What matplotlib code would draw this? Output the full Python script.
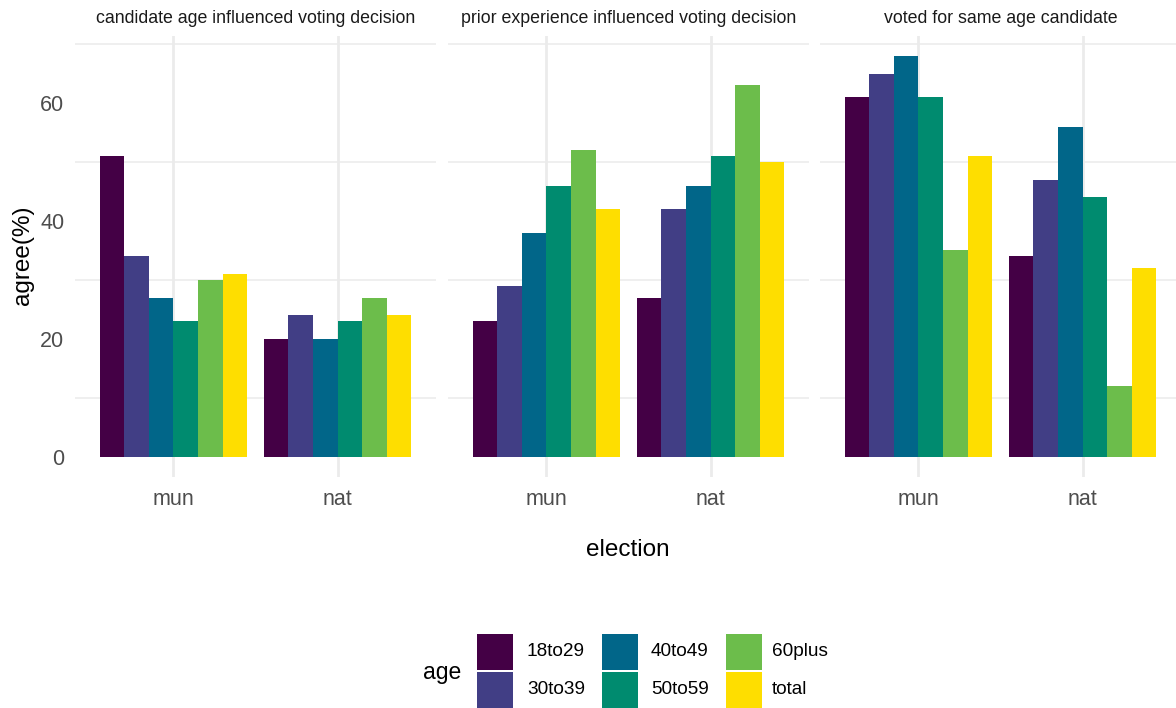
import matplotlib
matplotlib.use("Agg")
import matplotlib.pyplot as plt
from matplotlib.patches import Rectangle
import numpy as np

plt.rcParams['font.family'] = ['Liberation Sans', 'DejaVu Sans']

# ---- data -------------------------------------------------------------
panels = ["candidate age influenced voting decision",
          "prior experience influenced voting decision",
          "voted for same age candidate"]
elections = ["mun", "nat"]
age_groups = ["18to29", "30to39", "40to49", "50to59", "60plus", "total"]

# agree (%) per panel -> election -> age group
candidate_age = {"mun": [51, 34, 27, 23, 30, 31],
                 "nat": [20, 24, 20, 23, 27, 24]}
prior_experience = {"mun": [23, 29, 38, 46, 52, 42],
                    "nat": [27, 42, 46, 51, 63, 50]}
same_age = {"mun": [61, 65, 68, 61, 35, 51],
            "nat": [34, 47, 56, 44, 12, 32]}
panel_data = [candidate_age, prior_experience, same_age]

colors = ["#440045", "#413E85", "#016689", "#008B6F", "#6CBD4B", "#FEDE00"]

# ---- layout helpers ---------------------------------------------------
W, H = 1176, 708
fig = plt.figure(figsize=(W / 100, H / 100), dpi=100)


def fx(px):
    return px / W


def fy(py):
    return 1 - py / H


grid_col = "#EBEBEB"
tick_col = "#4D4D4D"
panel_lefts = [75, 448, 820]
panel_w = 361
top_px, bot_px = 35.8, 476.7

ymax = max(max(max(d[e]) for e in elections) for d in panel_data)
ylim = (-0.05 * ymax, 1.05 * ymax)

n = len(age_groups)
bw = 0.9 / n
xs = np.arange(1, len(elections) + 1)

for p, (title, data) in enumerate(zip(panels, panel_data)):
    ax = fig.add_axes([fx(panel_lefts[p]), fy(bot_px),
                       fx(panel_w), (bot_px - top_px) / H])
    ax.set_xlim(0.4, len(elections) + 0.6)
    ax.set_ylim(*ylim)
    for s in ax.spines.values():
        s.set_visible(False)
    # gridlines
    for yv in [10, 30, 50, 70]:
        ax.axhline(yv, color=grid_col, lw=1.1, zorder=0)
    for xv in xs:
        ax.axvline(xv, color=grid_col, lw=2.0, zorder=0)
    for i, ag in enumerate(age_groups):
        vals = [data[e][i] for e in elections]
        ax.bar(xs + (i - (n - 1) / 2) * bw, vals, width=bw,
               color=colors[i], zorder=2, linewidth=0)
    ax.set_xticks(xs)
    ax.set_xticklabels(elections, fontsize=15.5, color=tick_col)
    ax.tick_params(axis='both', length=0, pad=9)
    ax.set_yticks([0, 20, 40, 60])
    if p == 0:
        ax.set_yticklabels(["0", "20", "40", "60"], fontsize=15.5,
                           color=tick_col)
        ax.tick_params(axis='y', pad=7.7)
    else:
        ax.set_yticklabels([])
    ax.set_title(title, fontsize=12.8, color="#1A1A1A", pad=9)

fig.text(fx(23), fy(255), "agree(%)", rotation=90, fontsize=17.5,
         ha="center", va="center", color="black")
fig.text(fx(628), fy(550), "election", fontsize=17.5,
         ha="center", va="center", color="black")

# ---- legend -----------------------------------------------------------
fig.text(fx(423), fy(673), "age", fontsize=16.5, ha="left", va="center")
key_x = [477, 602, 726]
lab_x = [527, 651, 772]
row_y = [634, 672]
key = 36
for i, ag in enumerate(age_groups):
    c, r = divmod(i, 2)
    fig.patches.append(Rectangle((fx(key_x[c]), fy(row_y[r] + key)),
                                 fx(key), key / H, facecolor=colors[i],
                                 edgecolor="none",
                                 transform=fig.transFigure, figure=fig))
    fig.text(fx(lab_x[c]), fy(row_y[r] + key / 2), ag, fontsize=13.7,
             ha="left", va="center", color="black")

fig.savefig("out.png", dpi=100, facecolor="white")
